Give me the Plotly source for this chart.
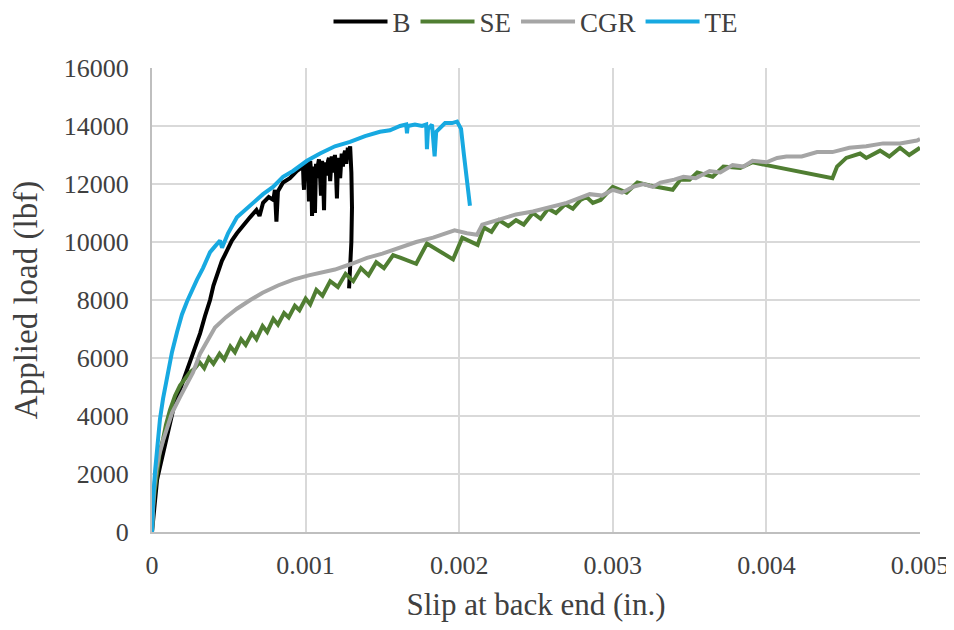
import plotly.graph_objects as go

# ---- Data (slip in inches, load in lbf) ----
B_x = [0, 0.0000065, 0.0000195, 0.000033, 0.000052, 0.000078, 0.000098, 0.000137, 0.000182,
       0.000215, 0.000247, 0.000280, 0.000313, 0.000345, 0.000378, 0.000400, 0.000423,
       0.000455, 0.000488, 0.000520, 0.000553, 0.000590, 0.000638, 0.000680, 0.000700,
       0.000723, 0.000760, 0.000790, 0.000800, 0.000810, 0.000820, 0.000853, 0.000898,
       0.000944, 0.000983, 0.000987, 0.000990, 0.000996, 0.001003, 0.001009, 0.001015,
       0.001018, 0.001022, 0.001030, 0.001036, 0.001042, 0.001050, 0.001055, 0.001061,
       0.001068, 0.001074, 0.001080, 0.001087, 0.001094, 0.001100, 0.001107, 0.001113,
       0.001120, 0.001126, 0.001133, 0.001139, 0.001146, 0.001152, 0.001160, 0.001165,
       0.001170, 0.001178, 0.001185, 0.001191, 0.001197, 0.001204, 0.001212, 0.001218,
       0.001225, 0.001235, 0.001240, 0.001243, 0.001250, 0.001257, 0.001265, 0.001270,
       0.001275, 0.001283, 0.001290, 0.001298, 0.001302, 0.001298, 0.001290, 0.001283]
B_y = [0, 400, 1100, 1800, 2250, 2850, 3400, 4200, 4900,
       5400, 5850, 6350, 6850, 7450, 8000, 8500, 8900,
       9350, 9700, 10050, 10300, 10550, 10850, 11100, 10900,
       11350, 11550, 11450, 11800, 10700, 11750, 12050, 12200,
       12450, 12600, 12000, 11800, 12700, 12300, 12100, 12750,
       12200, 11400, 12800, 12400, 10900, 12600, 12100, 11000,
       12700, 12200, 12650, 12850, 12300, 11600, 12800, 12400,
       11100, 12750, 12450, 12300, 12800, 12900, 12100, 12700,
       12950, 12400, 12850, 13000, 12500, 11500, 12900, 12500,
       12200, 13050, 12750, 12600, 13000, 13150, 12700, 13050,
       13250, 12900, 13300, 12400, 11200, 10000, 9100, 8400]

SE_x = [0, 0.0000065, 0.0000195, 0.000033, 0.000052, 0.000072, 0.000091, 0.000117, 0.000150,
        0.000182, 0.000215, 0.000247, 0.000280, 0.00031, 0.00034, 0.00037, 0.00040, 0.00044,
        0.00047, 0.00051, 0.00054, 0.00058, 0.00061, 0.00065, 0.00068, 0.00072, 0.00075,
        0.00079, 0.00082, 0.00086, 0.00089, 0.00093, 0.00096, 0.00100, 0.00103, 0.00107,
        0.00111, 0.00116, 0.00121, 0.00126, 0.00131, 0.00136, 0.00141, 0.00146, 0.00151,
        0.00157, 0.00162, 0.00172, 0.00179, 0.00196, 0.00202, 0.00208, 0.00212, 0.00216,
        0.00221, 0.00226, 0.00232, 0.00237, 0.00242, 0.00248, 0.00253, 0.00258, 0.00263,
        0.00269, 0.00274, 0.00279, 0.00283, 0.00287, 0.00292, 0.00300, 0.00309, 0.00316,
        0.00324, 0.00339, 0.00344, 0.00350, 0.00355, 0.00365, 0.00372, 0.00383, 0.00391,
        0.00400, 0.00443, 0.00446, 0.00452, 0.00461, 0.00465, 0.00474, 0.00480, 0.00487,
        0.00493, 0.00500]
SE_y = [0, 900, 1500, 2150, 2800, 3200, 3700, 4200, 4700,
        5050, 5300, 5500, 5650, 5850, 5650, 6000, 5800, 6150,
        5950, 6400, 6200, 6650, 6450, 6850, 6650, 7100, 6900,
        7350, 7150, 7550, 7400, 7800, 7650, 8050, 7850, 8350,
        8150, 8650, 8450, 8900, 8650, 9100, 8850, 9300, 9100,
        9550, 9450, 9250, 9950, 9400, 10150, 10000, 9900, 10500,
        10350, 10750, 10550, 10750, 10600, 11000, 10800, 11150, 11000,
        11300, 11150, 11450, 11550, 11350, 11450, 11900, 11700, 12050,
        11950, 11800, 12150, 12150, 12400, 12250, 12600, 12550, 12750,
        12650, 12200, 12600, 12900, 13050, 12900, 13150, 12950, 13250,
        13000, 13250]

CGR_x = [0, 0.0000065, 0.000013, 0.000026, 0.000046, 0.000072, 0.000098, 0.000130, 0.000182,
         0.000228, 0.000267, 0.000313, 0.000360, 0.000410, 0.000480, 0.000553, 0.000640,
         0.000720, 0.000820, 0.000920, 0.001020, 0.001094, 0.001191, 0.001300, 0.001400,
         0.001500, 0.001615, 0.001720, 0.001830, 0.001970, 0.002050, 0.002116, 0.002150,
         0.002266, 0.002370, 0.002480, 0.002600, 0.002700, 0.002850, 0.002930, 0.003000,
         0.003060, 0.003130, 0.003200, 0.003260, 0.003310, 0.003400, 0.003460, 0.003540,
         0.003630, 0.003700, 0.003780, 0.003850, 0.003910, 0.004000, 0.004070, 0.004130,
         0.004230, 0.004330, 0.004430, 0.004540, 0.004650, 0.004760, 0.004870, 0.004980,
         0.005000]
CGR_y = [0, 750, 1450, 2100, 2650, 3150, 3600, 4100, 4650,
         5100, 5500, 6150, 6600, 7050, 7400, 7700, 8000,
         8250, 8500, 8700, 8850, 8950, 9050, 9250, 9450,
         9600, 9800, 10000, 10150, 10400, 10300, 10250, 10600,
         10800, 10950, 11050, 11200, 11350, 11650, 11600, 11800,
         11700, 11900, 12000, 11900, 12050, 12150, 12250, 12200,
         12450, 12400, 12650, 12600, 12800, 12750, 12900, 12950,
         12950, 13100, 13100, 13250, 13300, 13400, 13400, 13500,
         13550]

TE_x = [0, 0.0000065, 0.000020, 0.000033, 0.000052, 0.000072, 0.000098, 0.000130, 0.000163,
        0.000195, 0.000228, 0.000260, 0.000293, 0.000332, 0.000378, 0.000410, 0.000443,
        0.000456, 0.000495, 0.000553, 0.000605, 0.000658, 0.000723, 0.000788, 0.000853,
        0.000918, 0.001009, 0.001094, 0.001191, 0.001289, 0.001387, 0.001484, 0.001549,
        0.001615, 0.001655, 0.001660, 0.001665, 0.001712, 0.001758, 0.001785, 0.001790,
        0.001797, 0.001823, 0.001840, 0.001850, 0.001908, 0.001953, 0.001986, 0.002012,
        0.002031, 0.002051, 0.002064, 0.002070]
TE_y = [0, 1100, 2100, 3000, 3900, 4600, 5400, 6200, 6900,
        7500, 7950, 8350, 8700, 9100, 9650, 9850, 10050,
        9800, 10300, 10850, 11100, 11350, 11650, 11900, 12250,
        12450, 12800, 13050, 13300, 13450, 13650, 13800, 13850,
        14000, 14050, 13750, 14000, 14050, 14000, 14050, 13200,
        13900, 14050, 12950, 13800, 14100, 14100, 14150, 13900,
        13000, 12200, 11500, 11250]

series = [
    ("B", B_x, B_y, "#000000"),
    ("SE", SE_x, SE_y, "#507E32"),
    ("CGR", CGR_x, CGR_y, "#A5A5A5"),
    ("TE", TE_x, TE_y, "#17A9E1"),
]

# The page body has an 8 px margin, so the figure is sized to the visible area.
W, H = 946, 622
FONT = "Liberation Serif"
TXT = "#404040"

fig = go.Figure()
for name, xs, ys, col in series:
    fig.add_trace(go.Scatter(x=xs, y=ys, mode="lines", name=name,
                             line=dict(color=col, width=4)))

fig.update_layout(
    width=W, height=H,
    margin=dict(l=144, r=34, t=60, b=98, autoexpand=False),
    paper_bgcolor="white", plot_bgcolor="white",
    font=dict(family=FONT, color=TXT, size=26),
    showlegend=True,
    legend=dict(orientation="h", x=0.5, xanchor="center",
                yref="container", y=1 - 14 / H, yanchor="middle",
                font=dict(family=FONT, size=27, color=TXT),
                bgcolor="rgba(0,0,0,0)", itemwidth=54),
)
fig.update_xaxes(
    range=[0, 0.005], dtick=0.001, tick0=0, automargin=False,
    showgrid=True, gridcolor="#D9D9D9", gridwidth=2,
    showline=True, linecolor="#BFBFBF", linewidth=2,
    zeroline=False, ticks="", ticklabelstandoff=9,
    tickfont=dict(family=FONT, size=26, color=TXT),
    title=dict(text="Slip at back end (in.)", standoff=14,
               font=dict(family=FONT, size=31, color=TXT)),
)
fig.update_yaxes(
    range=[0, 16000], dtick=2000, tick0=0, tickformat="d", automargin=False,
    showgrid=True, gridcolor="#D9D9D9", gridwidth=2,
    showline=True, linecolor="#BFBFBF", linewidth=2,
    zeroline=False, ticks="", ticklabelstandoff=16,
    tickfont=dict(family=FONT, size=26, color=TXT),
    title=dict(text="Applied load (lbf)", standoff=18,
               font=dict(family=FONT, size=33, color=TXT)),
)

fig.write_html("out.html")
